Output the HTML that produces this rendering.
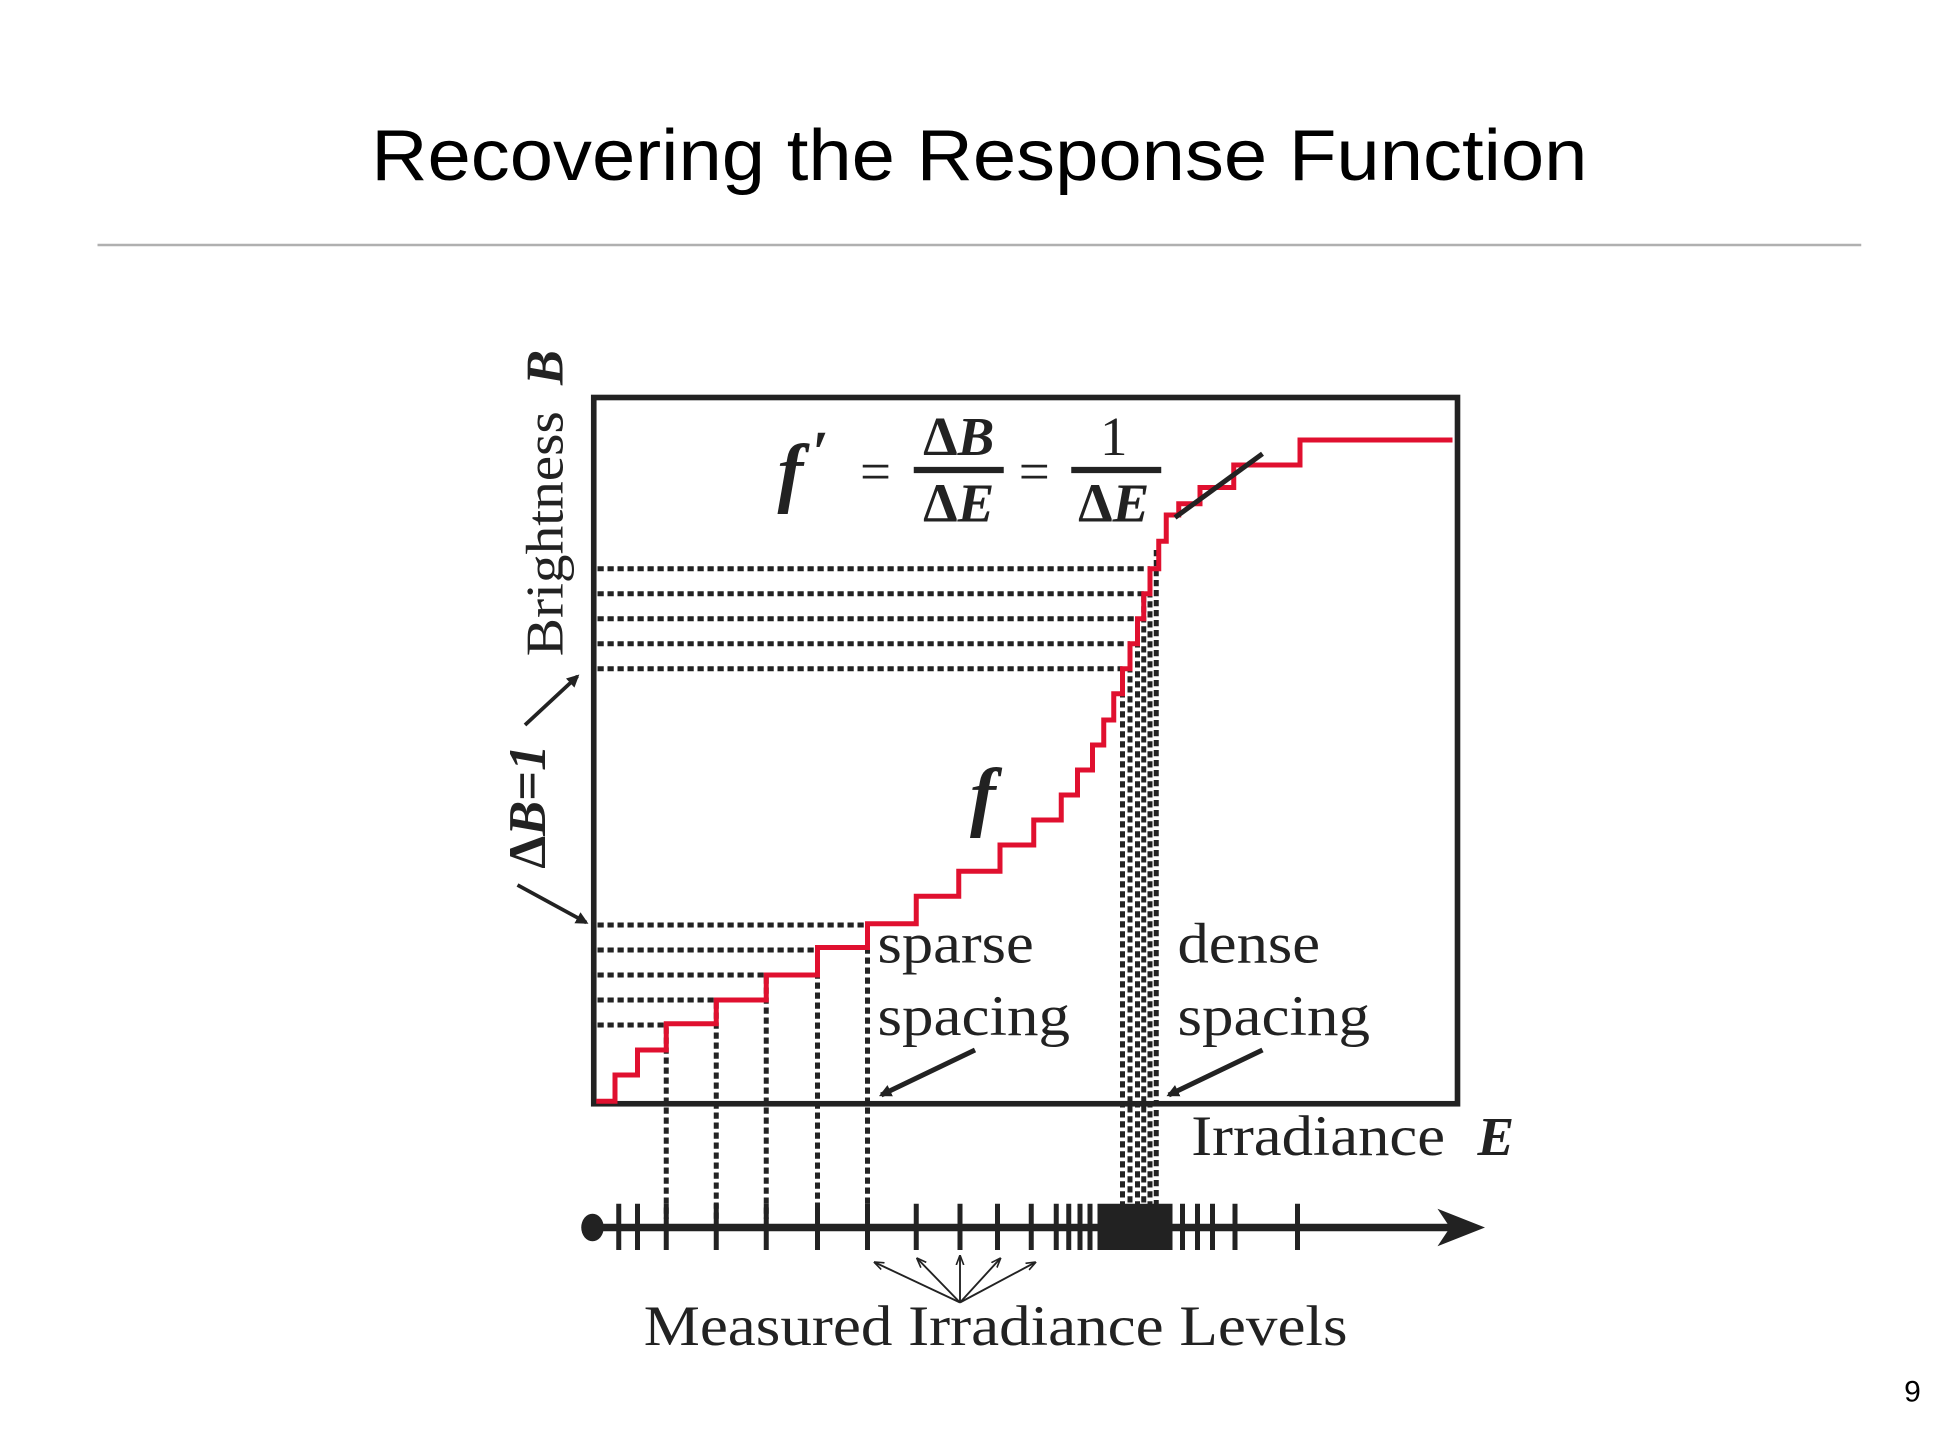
<!DOCTYPE html>
<html><head><style>html,body{margin:0;padding:0;background:#fff;}svg{display:block;}</style></head>
<body>
<svg width="1940" height="1455" viewBox="0 0 1552 1164" xmlns="http://www.w3.org/2000/svg">
<defs>
<marker id="ah" markerWidth="10" markerHeight="10" refX="8" refY="5" orient="auto" markerUnits="userSpaceOnUse"><path d="M0,0 L10,5 L0,10 z" fill="#222"/></marker>
<marker id="as" markerWidth="8" markerHeight="8" refX="7" refY="4" orient="auto" markerUnits="userSpaceOnUse"><path d="M0,1 L8,4 L0,7" fill="none" stroke="#222" stroke-width="1.3"/></marker>
</defs>
<text x="297" y="144" textLength="973" lengthAdjust="spacingAndGlyphs" font-family="Liberation Sans, sans-serif" font-size="58" fill="#000">Recovering the Response Function</text>
<line x1="78" y1="196" x2="1489" y2="196" stroke="#b0b0b0" stroke-width="2"/>
<text x="1530" y="1121" text-anchor="middle" font-family="Liberation Sans, sans-serif" font-size="24">9</text>

<g stroke="#222" stroke-width="4" stroke-dasharray="5,3" fill="none">
<line x1="478" y1="455" x2="920" y2="455"/>
<line x1="478" y1="475" x2="915" y2="475"/>
<line x1="478" y1="495" x2="910" y2="495"/>
<line x1="478" y1="515" x2="904" y2="515"/>
<line x1="478" y1="535" x2="898" y2="535"/>
<line x1="478" y1="740" x2="694" y2="740"/>
<line x1="478" y1="760" x2="654" y2="760"/>
<line x1="478" y1="780" x2="613" y2="780"/>
<line x1="478" y1="800" x2="573" y2="800"/>
<line x1="478" y1="820" x2="533" y2="820"/>
<line x1="533" y1="822" x2="533" y2="975"/>
<line x1="573" y1="802" x2="573" y2="975"/>
<line x1="613" y1="782" x2="613" y2="975"/>
<line x1="654" y1="762" x2="654" y2="975"/>
<line x1="694" y1="742" x2="694" y2="975"/>
<line x1="898" y1="537" x2="898" y2="975"/>
<line x1="904" y1="517" x2="904" y2="975"/>
<line x1="910" y1="497" x2="910" y2="975"/>
<line x1="915" y1="477" x2="915" y2="975"/>
<line x1="920" y1="457" x2="920" y2="975"/>
<line x1="925" y1="440" x2="925" y2="975"/>
</g>

<rect x="475" y="318" width="691" height="565" fill="none" stroke="#222" stroke-width="4.5"/>

<polyline fill="none" stroke="#e0102f" stroke-width="4" points="477,881 492,881 492,860 510,860 510,840 533,840 533,819 573,819 573,800 613,800 613,780 654,780 654,758 694,758 694,739 733,739 733,717 767,717 767,697 800,697 800,676 827,676 827,656 849,656 849,636 862,636 862,616 874,616 874,596 883,596 883,576 891,576 891,555 898,555 898,535 904,535 904,515 910,515 910,495 915,495 915,475 920,475 920,455 927,455 927,433 933,433 933,412 943,412 943,403 960,403 960,390 987,390 987,372 1040,372 1040,352 1162,352"/>
<line x1="940" y1="414" x2="1010" y2="363" stroke="#222" stroke-width="4"/>

<g font-family="Liberation Serif, serif" fill="#222">
<text x="622" y="398" font-size="62" font-style="italic" font-weight="bold">f</text>
<text x="650" y="378" font-size="48" font-weight="bold">′</text>
<text x="688" y="392" font-size="44">=</text>
<text x="767" y="364" font-size="44" text-anchor="middle" font-weight="bold">Δ<tspan font-style="italic">B</tspan></text>
<line x1="731" y1="376" x2="803" y2="376" stroke="#222" stroke-width="5"/>
<text x="767" y="417" font-size="44" text-anchor="middle" font-weight="bold">Δ<tspan font-style="italic">E</tspan></text>
<text x="815" y="392" font-size="44">=</text>
<text x="891" y="364" font-size="44" text-anchor="middle">1</text>
<line x1="857" y1="376" x2="929" y2="376" stroke="#222" stroke-width="5"/>
<text x="891" y="417" font-size="44" text-anchor="middle" font-weight="bold">Δ<tspan font-style="italic">E</tspan></text>
<text x="776" y="657" font-size="62" font-style="italic" font-weight="bold">f</text>
<text x="702" y="770" font-size="46" textLength="125" lengthAdjust="spacingAndGlyphs">sparse</text>
<text x="702" y="828" font-size="46" textLength="154" lengthAdjust="spacingAndGlyphs">spacing</text>
<text x="942" y="770" font-size="46" textLength="114" lengthAdjust="spacingAndGlyphs">dense</text>
<text x="942" y="828" font-size="46" textLength="154" lengthAdjust="spacingAndGlyphs">spacing</text>
<text x="953" y="924" font-size="46" textLength="203" lengthAdjust="spacingAndGlyphs">Irradiance</text>
<text x="1182" y="924" font-size="44" font-style="italic" font-weight="bold">E</text>
<text x="515" y="1076" font-size="46" textLength="563" lengthAdjust="spacingAndGlyphs">Measured Irradiance Levels</text>
<text transform="translate(450,525) rotate(-90)" font-size="42" textLength="196" lengthAdjust="spacingAndGlyphs">Brightness</text>
<text transform="translate(450,308) rotate(-90)" font-size="42" font-style="italic" font-weight="bold">B</text>
<text transform="translate(436,695) rotate(-90)" font-size="42" font-weight="bold">Δ<tspan font-style="italic">B</tspan>=<tspan font-style="italic">1</tspan></text>
</g>

<line x1="420" y1="580" x2="462" y2="541" stroke="#222" stroke-width="3" marker-end="url(#ah)"/>
<line x1="414" y1="708" x2="469" y2="738" stroke="#222" stroke-width="3" marker-end="url(#ah)"/>
<line x1="780" y1="840" x2="705" y2="876" stroke="#222" stroke-width="4" marker-end="url(#ah)"/>
<line x1="1010" y1="840" x2="935" y2="876" stroke="#222" stroke-width="4" marker-end="url(#ah)"/>

<line x1="473" y1="982" x2="1170" y2="982" stroke="#222" stroke-width="6"/>
<path d="M1150,967 L1188,982 L1150,997 L1160,982 z" fill="#222"/>
<ellipse cx="474" cy="982" rx="9" ry="11" fill="#222"/>
<g stroke="#222" stroke-width="4">
<line x1="495" y1="963" x2="495" y2="1000"/>
<line x1="510" y1="963" x2="510" y2="1000"/>
<line x1="533" y1="963" x2="533" y2="1000"/>
<line x1="573" y1="963" x2="573" y2="1000"/>
<line x1="613" y1="963" x2="613" y2="1000"/>
<line x1="654" y1="963" x2="654" y2="1000"/>
<line x1="694" y1="963" x2="694" y2="1000"/>
<line x1="733" y1="963" x2="733" y2="1000"/>
<line x1="768" y1="963" x2="768" y2="1000"/>
<line x1="798" y1="963" x2="798" y2="1000"/>
<line x1="825" y1="963" x2="825" y2="1000"/>
<line x1="845" y1="963" x2="845" y2="1000"/>
<line x1="855" y1="963" x2="855" y2="1000"/>
<line x1="864" y1="963" x2="864" y2="1000"/>
<line x1="872" y1="963" x2="872" y2="1000"/>
<line x1="946" y1="963" x2="946" y2="1000"/>
<line x1="958" y1="963" x2="958" y2="1000"/>
<line x1="970" y1="963" x2="970" y2="1000"/>
<line x1="988" y1="963" x2="988" y2="1000"/>
<line x1="1038" y1="963" x2="1038" y2="1000"/>
</g>
<rect x="878" y="963" width="60" height="37" fill="#222"/>
<g stroke="#222" stroke-width="1.5">
<line x1="768" y1="1042" x2="700" y2="1010" marker-end="url(#as)"/>
<line x1="768" y1="1042" x2="734" y2="1007" marker-end="url(#as)"/>
<line x1="768" y1="1042" x2="768" y2="1005" marker-end="url(#as)"/>
<line x1="768" y1="1042" x2="800" y2="1007" marker-end="url(#as)"/>
<line x1="768" y1="1042" x2="828" y2="1010" marker-end="url(#as)"/>
</g>
</svg>
</body></html>
